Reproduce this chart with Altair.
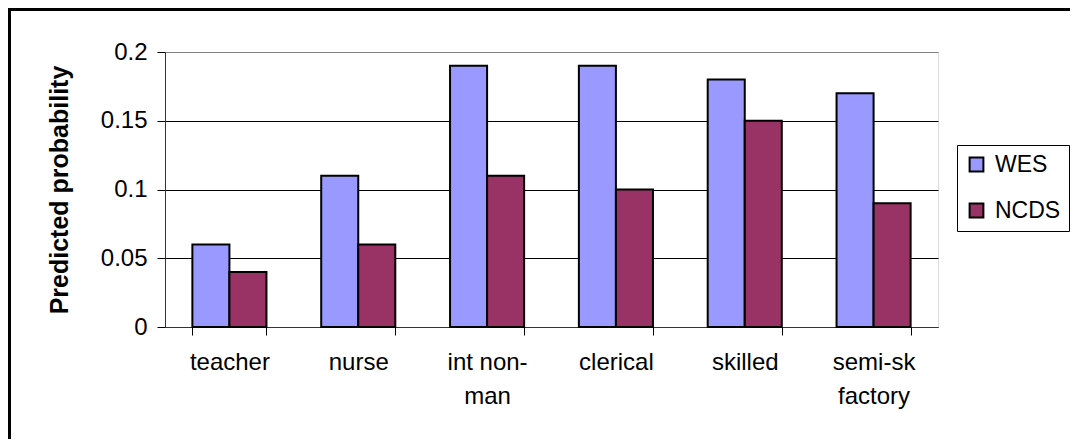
import altair as alt
import pandas as pd

categories = ["teacher", "nurse", "int non-\nman", "clerical", "skilled", "semi-sk\nfactory"]
series = ["WES", "NCDS"]
wes = [0.06, 0.11, 0.19, 0.19, 0.18, 0.17]
ncds = [0.04, 0.06, 0.11, 0.10, 0.15, 0.09]
y_ticks = [0, 0.05, 0.1, 0.15, 0.2]
colors = ["#9999FF", "#993366"]

rows = []
for c, a, b in zip(categories, wes, ncds):
    rows.append({"category": c, "series": "WES", "value": a})
    rows.append({"category": c, "series": "NCDS", "value": b})
df = pd.DataFrame(rows)

W, H = 773, 275
PL, PT, PR, PB = 157, 44, 132, 112
FONT = "Liberation Sans"

bars = alt.Chart(df).mark_bar(stroke="black", strokeWidth=2).encode(
    x=alt.X(
        "category:N",
        sort=categories,
        scale=alt.Scale(paddingInner=0.425, paddingOuter=0.2125),
        axis=alt.Axis(
            title=None,
            labelAngle=0,
            labelFontSize=24,
            labelColor="black",
            labelExpr="split(datum.label, '\\n')",
            labelLineHeight=34,
            labelPadding=15,
            labelBaseline="top",
            tickBand="extent",
            tickSize=8,
            tickColor="black",
            domainColor="#333333",
            grid=False,
        ),
    ),
    xOffset=alt.XOffset("series:N", sort=series),
    y=alt.Y(
        "value:Q",
        scale=alt.Scale(domain=[0, 0.2], nice=False),
        axis=alt.Axis(
            title="Predicted probability",
            titleFontSize=25,
            titleFontWeight="bold",
            titleColor="black",
            titleAngle=-90,
            titleX=-106,
            titleY=H / 2,
            titleAlign="center",
            titleBaseline="middle",
            values=y_ticks,
            labelExpr="datum.value == 0 ? '0' : format(datum.value, '.2~f')",
            labelFontSize=24,
            labelColor="black",
            labelPadding=10,
            tickSize=8,
            tickColor="black",
            domainColor="#333333",
            grid=True,
            gridColor=alt.condition("datum.value == 0.2", alt.value("#808080"), alt.value("black")),
            gridWidth=1,
        ),
    ),
    fill=alt.Fill(
        "series:N",
        sort=series,
        scale=alt.Scale(domain=series, range=colors),
        legend=alt.Legend(
            title=None,
            orient="none",
            legendX=792,
            legendY=93,
            symbolType="square",
            symbolSize=190,
            symbolStrokeColor="black",
            symbolStrokeWidth=2,
            labelFontSize=23,
            labelColor="black",
            rowPadding=22,
            labelOffset=7,
            strokeColor="black",
            padding=8,
        ),
    ),
)

top_border = alt.Chart(df).mark_rule(color="black", strokeWidth=3).encode(
    x=alt.value(-PL), x2=alt.value(W + PR + 10), y=alt.value(-PT + 1.5)
)
left_border = alt.Chart(df).mark_rule(color="black", strokeWidth=3).encode(
    x=alt.value(-PL + 1.5), y=alt.value(-PT), y2=alt.value(H + PB)
)

chart = alt.layer(bars, top_border, left_border).properties(
    width=W,
    height=H,
    autosize=alt.AutoSizeParams(type="none"),
    padding={"left": PL, "top": PT, "right": PR, "bottom": PB},
    background="white",
).configure_view(stroke="#808080", strokeWidth=1.5).configure(font=FONT)

chart.save("out.html", embed_options={"renderer": "svg", "actions": False})
